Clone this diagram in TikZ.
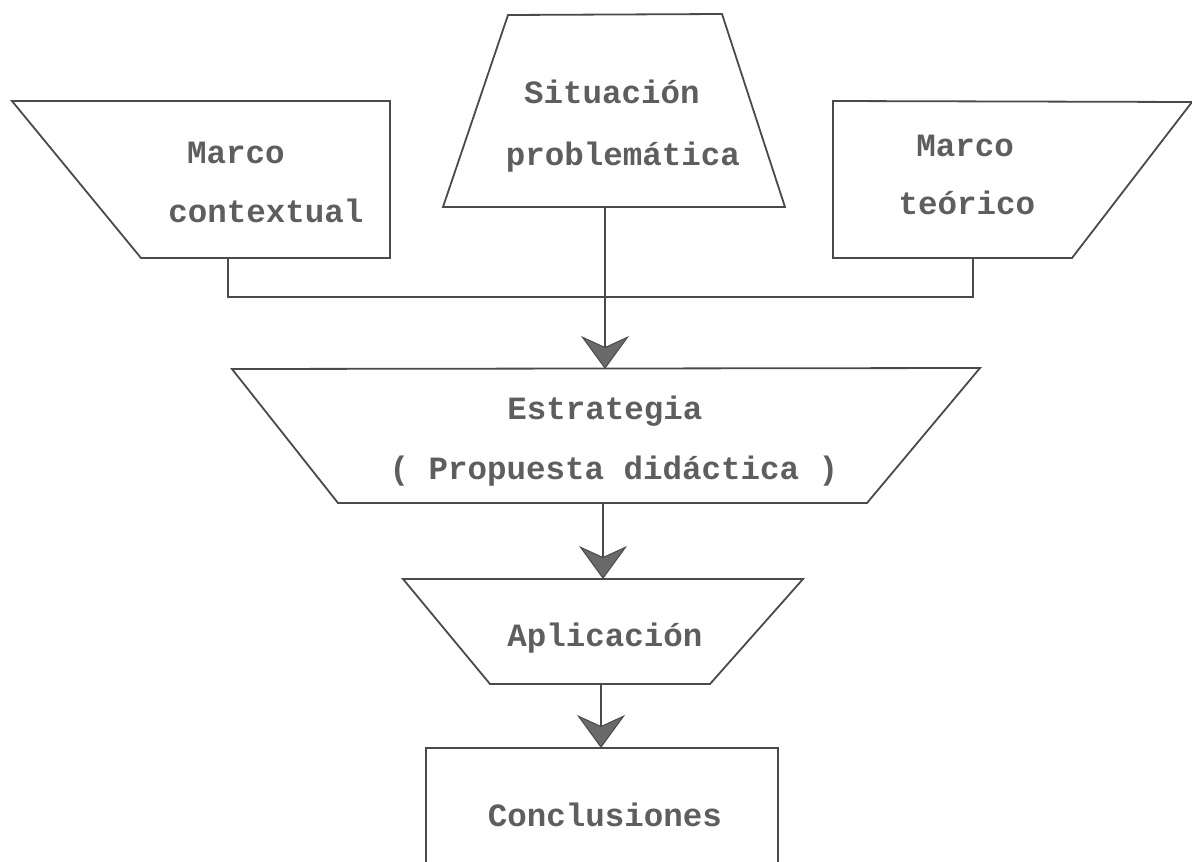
\documentclass[tikz,border=0pt]{standalone}
\usepackage{fontspec}
\setmonofont{Liberation Mono}
\usetikzlibrary{arrows.meta}
\definecolor{ink}{HTML}{4A4A4A}
\definecolor{txt}{HTML}{5E5E5E}
\definecolor{headfill}{HTML}{6A6A6A}
\tikzset{
  shapeline/.style={draw=ink, line width=1.8pt, line join=miter},
  conn/.style={draw=ink, line width=1.6pt},
  flowarrow/.style={conn, -{Stealth[length=33pt,width=48pt,inset=11pt,fill=headfill,color=ink,line width=1pt]}},
  lbl/.style={inner sep=0pt, anchor=base, text=txt, font=\ttfamily\bfseries\fontsize{32.5}{40}\selectfont}
}
\begin{document}
\begin{tikzpicture}[x=1pt,y=-1pt]
\useasboundingbox (0,0) rectangle (1192,862);
\clip (0,0) rectangle (1192,862);
% corners
\coordinate (mcA) at (12,101);  \coordinate (mcB) at (390,101);
\coordinate (mcC) at (390,258); \coordinate (mcD) at (141,258);
\coordinate (spA) at (508,15);  \coordinate (spB) at (722,14);
\coordinate (spC) at (785,207); \coordinate (spD) at (443,207);
\coordinate (mtA) at (833,101); \coordinate (mtB) at (1192,102);
\coordinate (mtC) at (1072,258);\coordinate (mtD) at (833,258);
\coordinate (esA) at (232,369); \coordinate (esB) at (980,368);
\coordinate (esC) at (867,503); \coordinate (esD) at (338,503);
\coordinate (apA) at (403,579); \coordinate (apB) at (803,579);
\coordinate (apC) at (710,684); \coordinate (apD) at (490,684);
\coordinate (coA) at (426,748); \coordinate (coB) at (778,748);
\coordinate (coC) at (778,880); \coordinate (coD) at (426,880);
% shapes
\draw[shapeline] (mcA) -- (mcB) -- (mcC) -- (mcD) -- cycle;
\draw[shapeline] (spA) -- (spB) -- (spC) -- (spD) -- cycle;
\draw[shapeline] (mtA) -- (mtB) -- (mtC) -- (mtD) -- cycle;
\draw[shapeline] (esA) -- (esB) -- (esC) -- (esD) -- cycle;
\draw[shapeline] (apA) -- (apB) -- (apC) -- (apD) -- cycle;
\draw[shapeline] (coD) -- (coA) -- (coB) -- (coC);
% labels
\node[lbl] (mc1) at (236,163) {Marco};
\node[lbl] (mc2) at (266,222) {contextual};
\node[lbl] (sp1) at (612,103) {Situación};
\node[lbl] (sp2) at (623,165) {problemática};
\node[lbl] (mt1) at (965,156) {Marco};
\node[lbl] (mt2) at (967,214) {teórico};
\node[lbl] (es1) at (605,419) {Estrategia};
\node[lbl] (es2) at (614,479) {( Propuesta didáctica )};
\node[lbl] (ap1) at (605,646) {Aplicación};
\node[lbl] (co1) at (605,826) {Conclusiones};
% connector points
\coordinate (mcOut) at (228,258);
\coordinate (mtOut) at (973,258);
\coordinate (mcJ) at (228,297);
\coordinate (mtJ) at (973,297);
\coordinate (spOut) at (605,207);
\coordinate (esIn) at (605,369);
\coordinate (esOut) at (603,503);
\coordinate (apIn) at (603,579);
\coordinate (apOut) at (601,684);
\coordinate (coIn) at (601,748);
% connectors
\draw[conn] (mcOut) -- (mcJ) -- (mtJ) -- (mtOut);
\draw[flowarrow] (spOut) -- (esIn);
\draw[flowarrow] (esOut) -- (apIn);
\draw[flowarrow] (apOut) -- (coIn);
\end{tikzpicture}
\end{document}
